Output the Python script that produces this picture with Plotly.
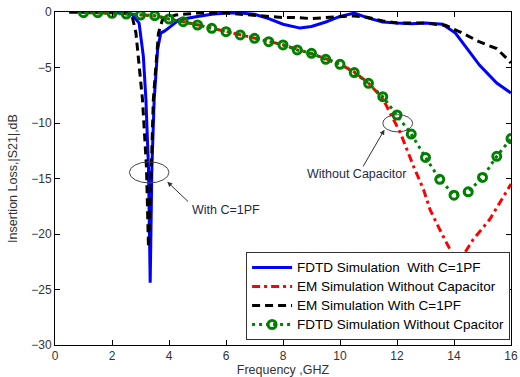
import plotly.graph_objects as go

# ---------------- data ----------------
fdtd_c_x = [0.5, 1.0, 1.5, 2.0, 2.5, 2.7, 2.95, 3.1, 3.19, 3.28, 3.34, 3.40, 3.48, 3.6, 3.71,
            3.85, 4.06, 4.35, 5.0, 5.5, 6.0, 6.5, 7.0, 7.5, 8.0, 8.6, 9.0, 9.5, 10.0, 10.5,
            11.0, 11.5, 12.0, 12.5, 13.0, 13.6, 14.05, 14.5, 14.9, 15.5, 15.85, 16.0]
fdtd_c_y = [0.0, 0.0, 0.0, -0.05, -0.1, -0.2, -1.0, -4.0, -7.9, -14.0, -24.4, -14.0, -7.9, -3.4, -1.9,
            -1.7, -1.3, -0.7, -0.4, -0.2, -0.1, -0.1, -0.2, -0.6, -1.1, -1.45, -1.3, -0.9, -0.4, -0.1,
            -0.55, -0.9, -1.0, -1.05, -1.0, -1.1, -1.9, -3.4, -4.8, -6.4, -7.0, -7.3]

em_noc_x = [1.0, 1.5, 2.0, 2.5, 3.0, 3.5, 4.0, 4.5, 5.0, 5.5, 6.0, 6.5, 7.0, 7.5, 8.0, 8.5, 9.0,
            9.5, 10.0, 10.5, 11.0, 11.5, 11.88, 12.12, 12.35, 12.58, 12.93, 13.16, 13.5, 13.97,
            14.1, 14.3, 14.67, 15.25, 15.94, 16.0]
em_noc_y = [-0.05, -0.05, -0.1, -0.15, -0.25, -0.35, -0.6, -0.85, -1.15, -1.45, -1.75, -2.05,
            -2.35, -2.65, -2.95, -3.35, -3.75, -4.2, -4.7, -5.4, -6.4, -7.8, -9.7, -10.9, -12.4,
            -13.9, -16.0, -17.8, -19.6, -22.0, -22.6, -22.0, -20.5, -18.7, -15.7, -15.5]

em_c_x = [0.5, 1.0, 1.5, 2.0, 2.5, 2.7, 2.84, 3.07, 3.21, 3.28, 3.38, 3.45, 3.63, 3.77, 4.23,
          5.0, 6.0, 6.5, 7.0, 7.5, 8.0, 8.5, 9.0, 9.5, 10.0, 10.5, 11.0, 11.5, 12.0, 12.5, 13.0,
          13.7, 14.3, 14.9, 15.5, 15.9, 16.0]
em_c_y = [0.0, 0.0, 0.0, -0.05, -0.1, -0.3, -1.9, -7.9, -14.0, -21.2, -14.0, -7.9, -1.9, -0.7, -0.27,
          -0.1, -0.1, -0.2, -0.3, -0.4, -0.5, -0.5, -0.6, -0.5, -0.4, -0.35, -0.5, -0.8, -1.0, -1.0,
          -1.0, -1.2, -1.9, -2.7, -3.3, -4.3, -4.6]

fdtd_noc_x = [1.0, 1.5, 2.0, 2.5, 3.0, 3.5, 4.0, 4.5, 5.0, 5.5, 6.0, 6.5, 7.0, 7.5, 8.0, 8.5,
              9.0, 9.5, 10.0, 10.5, 11.0, 11.5, 12.0, 12.5, 13.0, 13.5, 14.0, 14.5, 15.0, 15.5, 16.0]
fdtd_noc_y = [-0.06, -0.06, -0.12, -0.18, -0.27, -0.33, -0.63, -0.87, -1.17, -1.47, -1.77, -2.07,
              -2.37, -2.67, -2.97, -3.42, -3.72, -4.26, -4.71, -5.46, -6.43, -7.63, -9.28, -11.0,
              -13.1, -15.07, -16.5, -16.2, -14.9, -13.0, -11.4]

series_names = ["FDTD Simulation  With C=1PF", "EM Simulation Without Capacitor",
                "EM Simulation With C=1PF", "FDTD Simulation Without Cpacitor"]

x_ticks = [0, 2, 4, 6, 8, 10, 12, 14, 16]
y_ticks = [-30, -25, -20, -15, -10, -5, 0]

# annotation anchors (data coords)
ell1 = dict(x0=2.61, x1=4.0, y0=-13.5, y1=-15.4)
ell2 = dict(x0=11.5, x1=12.55, y0=-9.25, y1=-10.8)


def leg(name):
    return '<span style="font-size:13.5px">' + name.replace("  ", "&nbsp; ") + "</span>"


# ---------------- figure ----------------
fig = go.Figure()
fig.add_trace(go.Scatter(x=fdtd_c_x, y=fdtd_c_y, mode="lines", name=leg(series_names[0]),
                         line=dict(color="#0000ff", width=3)))
fig.add_trace(go.Scatter(x=em_noc_x, y=em_noc_y, mode="lines", name=leg(series_names[1]),
                         line=dict(color="#ff0000", width=3, dash="8px,4px,3px,4px")))
fig.add_trace(go.Scatter(x=em_c_x, y=em_c_y, mode="lines", name=leg(series_names[2]),
                         line=dict(color="#000000", width=3, dash="8px,5px")))
fig.add_trace(go.Scatter(x=fdtd_noc_x, y=fdtd_noc_y, mode="lines+markers", name=leg(series_names[3]),
                         line=dict(color="#008000", width=3, dash="3px,4px"),
                         marker=dict(symbol="circle-open", size=8, color="#008000",
                                     line=dict(color="#008000", width=3))))

for e in (ell1, ell2):
    fig.add_shape(type="circle", xref="x", yref="y", line=dict(color="#444444", width=1), **e)

ann_font = dict(family="Liberation Sans, Arial", size=12.5, color="#1f2a48")
fig.add_annotation(x=4.75, y=-17.85, text="With C=1PF", showarrow=False,
                   xanchor="left", yanchor="middle", font=ann_font)
fig.add_annotation(x=3.94, y=-15.3, ax=4.72, ay=-17.2, axref="x", ayref="y",
                   text="", showarrow=True, arrowhead=2, arrowsize=1, arrowwidth=1,
                   arrowcolor="#333333")
fig.add_annotation(x=8.78, y=-14.55, text="Without Capacitor", showarrow=False,
                   xanchor="left", yanchor="middle", font=ann_font)
fig.add_annotation(x=11.56, y=-10.6, ax=10.78, ay=-14.05, axref="x", ayref="y",
                   text="", showarrow=True, arrowhead=2, arrowsize=1, arrowwidth=1,
                   arrowcolor="#333333")

axis_common = dict(showline=True, linecolor="black", linewidth=1, mirror="ticks",
                   ticks="inside", ticklen=5, tickcolor="black", showgrid=False,
                   zeroline=False, ticklabeloverflow="allow",
                   tickfont=dict(family="Liberation Sans, Arial", size=12, color="#333333"))

fig.update_layout(
    width=520, height=377,
    margin=dict(l=55, r=9, t=12, b=32),
    paper_bgcolor="white", plot_bgcolor="white",
    font=dict(family="Liberation Sans, Arial", color="#333333"),
    xaxis=dict(range=[0, 16], tickvals=x_ticks, automargin=False,
               title=dict(text="Frequency ,GHZ", standoff=2,
                          font=dict(size=12.5, color="#333333")),
               **axis_common),
    yaxis=dict(range=[-30, 0], tickvals=y_ticks, automargin=False,
               title=dict(text="Insertion Loss,|S21|,dB", standoff=10,
                          font=dict(size=12.5, color="#333333")),
               **axis_common),
    showlegend=True,
    legend=dict(x=0.998, y=0.015, xanchor="right", yanchor="bottom",
                bgcolor="white", bordercolor="#333333", borderwidth=1,
                font=dict(family="Liberation Sans, Arial", size=11, color="black"),
                tracegroupgap=0, itemwidth=40),
)

fig.write_html("out.html")
